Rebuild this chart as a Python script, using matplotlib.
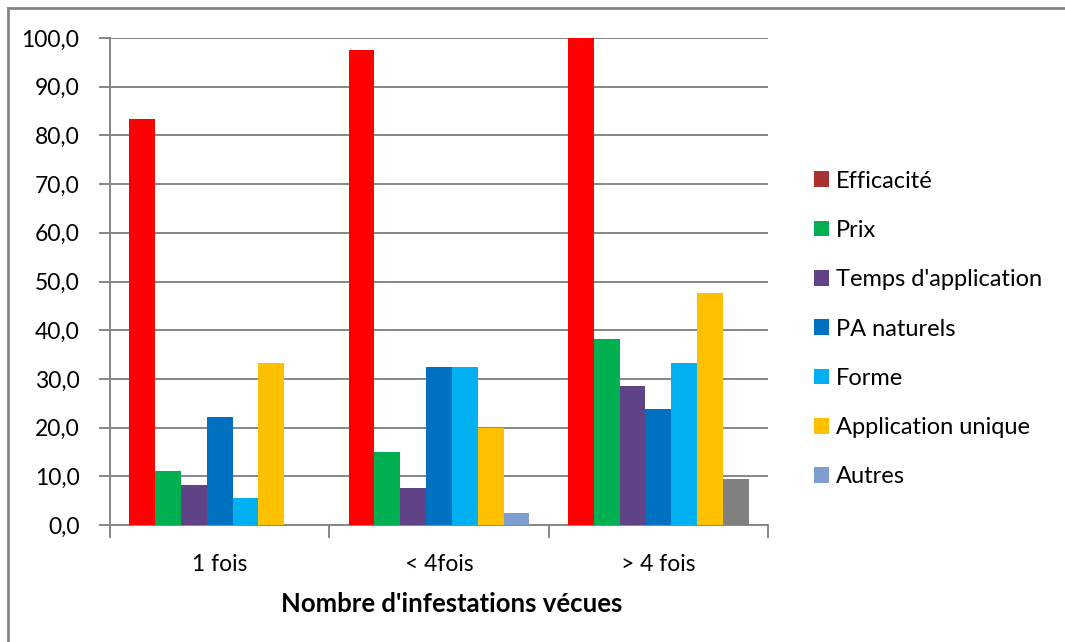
import numpy as np
import matplotlib.pyplot as plt
from matplotlib.patches import Patch
from matplotlib.lines import Line2D

plt.rcParams['font.family'] = ['Lato', 'DejaVu Sans']

categories = ["1 fois", "< 4fois", "> 4 fois"]
series = ["Efficacité", "Prix", "Temps d'application", "PA naturels",
          "Forme", "Application unique", "Autres"]
efficacite = [83.3, 97.5, 100.0]
prix = [11.1, 15.0, 38.1]
temps = [8.3, 7.5, 28.6]
pa_naturels = [22.2, 32.5, 23.8]
forme = [5.6, 32.5, 33.3]
application_unique = [33.3, 20.0, 47.6]
autres = [0.0, 2.5, 9.5]

values = [efficacite, prix, temps, pa_naturels, forme, application_unique, autres]
bar_colors = ["#FF0000", "#00B050", "#604387", "#0070C0", "#00B0F0", "#FFC000",
              ["#7F9ECF", "#7F9ECF", "#808080"]]
legend_colors = ["#A83232", "#00B050", "#604387", "#0070C0", "#00B0F0", "#FFC000", "#7F9ECF"]

fig = plt.figure(figsize=(10.65, 6.42), dpi=100)
ax = fig.add_axes([110 / 1065, 1 - 525 / 642, 658 / 1065, 487 / 642])

grid_col = "#868686"
n = len(series)
group_w = 0.825
w = group_w / n
x = np.arange(len(categories))
for i, (vals, col) in enumerate(zip(values, bar_colors)):
    pos = x - group_w / 2 + w * (i + 0.5)
    ax.bar(pos, vals, width=w, color=col, zorder=3, linewidth=0)

ax.set_xlim(-0.5, 2.5)
ax.set_ylim(0, 100)
ax.set_yticks(np.arange(0, 101, 10))
ax.set_yticklabels([f"{v:.1f}".replace(".", ",") for v in np.arange(0, 101, 10)])
ax.yaxis.grid(True, color=grid_col, linewidth=1.4, zorder=0)
ax.set_axisbelow(True)

ax.set_xticks([-0.5, 0.5, 1.5, 2.5])
ax.set_xticklabels([])
ax.set_xticks(x, minor=True)
ax.set_xticklabels(categories, minor=True)
ax.tick_params(axis='x', which='minor', length=0, pad=21, labelsize=16.5)
ax.tick_params(axis='x', which='major', length=9, width=1.4, color=grid_col, direction='out')
ax.tick_params(axis='y', length=8, width=1.4, color=grid_col, direction='out', pad=14, labelsize=16.5)

for s in ["top", "right"]:
    ax.spines[s].set_visible(False)
for s in ["left", "bottom"]:
    ax.spines[s].set_color(grid_col)
    ax.spines[s].set_linewidth(1.4)

fig.text(452 / 1065, 1 - 604 / 642, "Nombre d'infestations vécues", ha='center', va='center',
         fontsize=18.5, fontweight='bold')

handles = [Patch(facecolor=c, edgecolor='none') for c in legend_colors]
fig.legend(handles, series, loc='center left', bbox_to_anchor=(802 / 1065, 1 - 329 / 642),
           frameon=False, fontsize=17, handlelength=0.65, handleheight=0.65,
           handletextpad=0.3, labelspacing=1.2, borderpad=0)

# cadre du graphique (bord gauche et haut)
fig.add_artist(Line2D([8 / 1065, 8 / 1065], [0, 1 - 8 / 642], color="#868686", linewidth=2))
fig.add_artist(Line2D([8 / 1065, 1], [1 - 8 / 642, 1 - 8 / 642], color="#868686", linewidth=2))

fig.savefig("out.png", dpi=100)
